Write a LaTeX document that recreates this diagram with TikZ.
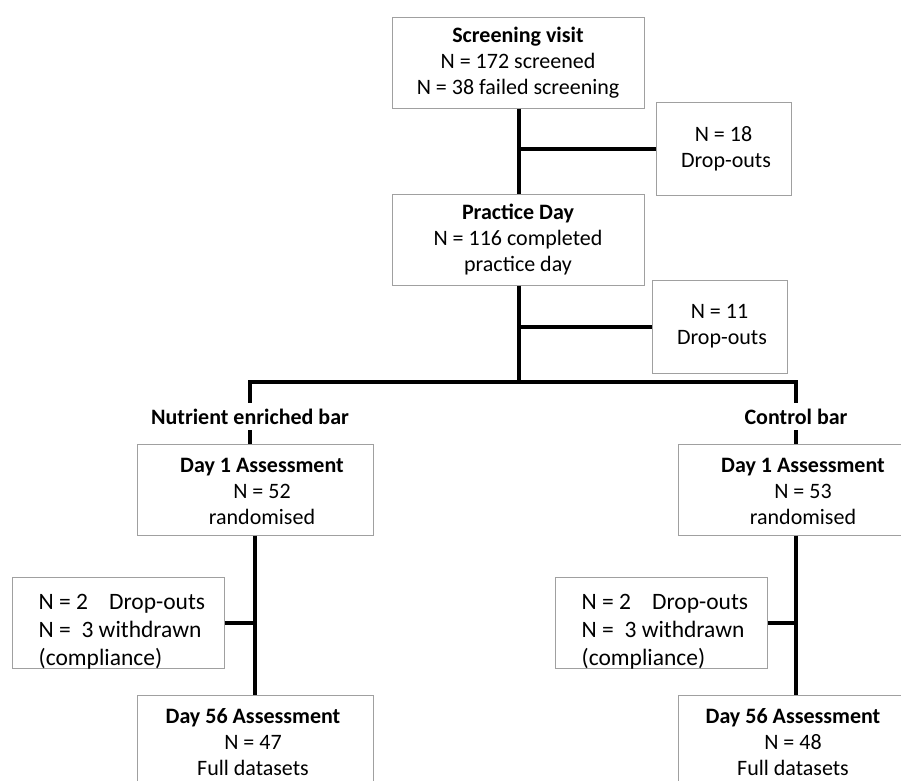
\documentclass[tikz,border=0pt]{standalone}
\usepackage{fontspec}
\setmainfont{Carlito}
\definecolor{boxgray}{RGB}{160,160,160}
\begin{document}
\begin{tikzpicture}[x=1pt,y=-1pt,
  box/.style={draw=boxgray, line width=1pt, fill=white, rectangle, inner sep=0pt},
  txt/.style={align=center, inner sep=0pt, font=\fontsize{22}{26}\selectfont},
  ltxt/.style={align=left, inner sep=0pt, font=\fontsize{23.5}{28}\selectfont, anchor=west},
  conn/.style={line width=4pt, line cap=butt, line join=miter}]
\path[use as bounding box, clip] (0,0) rectangle (901,780);
\fill[white] (0,0) rectangle (901,780);

% boxes
\node[box, minimum width=252pt, minimum height=91pt, txt] (screen) at (518,62.5)
  {\textbf{Screening visit}\\N = 172 screened\\N = 38 failed screening};
\node[box, minimum width=135pt, minimum height=93pt, txt] (drop1) at (723.5,148.5)
  {N = 18\\\ Drop-outs};
\node[box, minimum width=252pt, minimum height=91pt, txt] (practice) at (518,239.5)
  {\textbf{Practice Day}\\N = 116 completed\\practice day};
\node[box, minimum width=135pt, minimum height=93pt, txt] (drop2) at (719.5,326.5)
  {N = 11\\\ Drop-outs};

\node[txt, minimum height=27pt] (labL) at (250,416.5) {\textbf{Nutrient enriched bar}};
\node[txt, minimum height=27pt] (labR) at (796,416.5) {\textbf{Control bar}};

\node[box, minimum width=236pt, minimum height=91pt] (d1L) at (255,489.5) {};
\node[txt] (d1Lt) at ([xshift=7pt,yshift=-2pt]d1L.center) {\textbf{Day 1 Assessment}\\N = 52\\randomised};
\node[box, minimum width=236pt, minimum height=91pt] (d1R) at (796,489.5) {};
\node[txt] (d1Rt) at ([xshift=7pt,yshift=-2pt]d1R.center) {\textbf{Day 1 Assessment}\\N = 53\\randomised};

\node[box, minimum width=212pt, minimum height=91pt] (dropL) at (118,622.5) {};
\node[ltxt] (dropLt) at ([xshift=27pt,yshift=-9pt]dropL.west) {N = 2\hspace{21pt}Drop-outs\\N = \ 3 withdrawn\\(compliance)};
\node[box, minimum width=212pt, minimum height=91pt] (dropR) at (661,622.5) {};
\node[ltxt] (dropRt) at ([xshift=27pt,yshift=-9pt]dropR.west) {N = 2\hspace{21pt}Drop-outs\\N = \ 3 withdrawn\\(compliance)};

\node[box, minimum width=236pt, minimum height=100pt] (d56L) at (255,745) {};
\node[txt] (d56Lt) at ([xshift=-2pt,yshift=3pt]d56L.center) {\textbf{Day 56 Assessment}\\N = 47\\Full datasets};
\node[box, minimum width=236pt, minimum height=100pt] (d56R) at (796,745) {};
\node[txt] (d56Rt) at ([xshift=-3pt,yshift=3pt]d56R.center) {\textbf{Day 56 Assessment}\\N = 48\\Full datasets};

% connectors
\coordinate (split) at (519,382);
\coordinate (bl) at (250,382);
\coordinate (br) at (796,382);
\draw[conn] (screen.south -| split) -- (practice.north -| split);
\draw[conn] (split |- drop1.west) -- (drop1.west);
\draw[conn] (practice.south -| split) -- (split);
\draw[conn] (split |- drop2.west) -- (drop2.west);
\draw[conn] (labL.north) -- (bl) -- (br) -- (labR.north);
\draw[conn] (labL.south) -- (labL.south |- d1L.north);
\draw[conn] (labR.south) -- (labR.south |- d1R.north);
\draw[conn] (d1L.south) -- (d56L.north);
\draw[conn] (dropL.east) -- (d1L.south |- dropL.east);
\draw[conn] (d1R.south) -- (d56R.north);
\draw[conn] (dropR.east) -- (d1R.south |- dropR.east);
\end{tikzpicture}
\end{document}
